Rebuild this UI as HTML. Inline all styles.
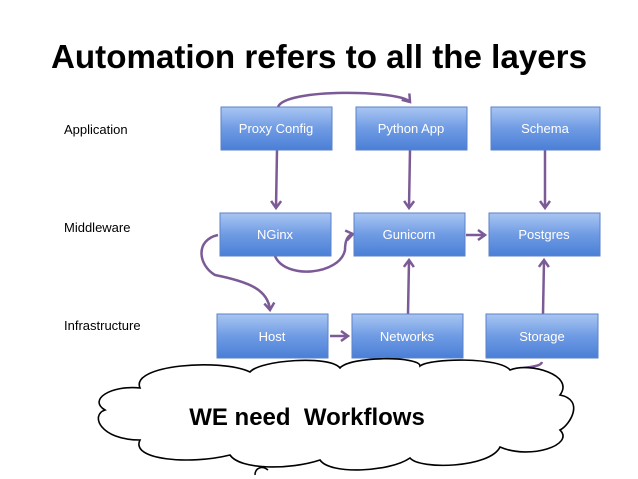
<!DOCTYPE html>
<html><head><style>
body{margin:0;background:#fff;}
svg{display:block;}
text{font-family:"Liberation Sans",sans-serif;}
</style></head><body>
<svg width="638" height="479" viewBox="0 0 638 479" xmlns="http://www.w3.org/2000/svg">
<defs>
<linearGradient id="g" x1="0" y1="0" x2="0" y2="1">
<stop offset="0" stop-color="#a9c6f2"/><stop offset="0.5" stop-color="#6f9be4"/><stop offset="1" stop-color="#4a7fd6"/>
</linearGradient>
<marker id="a" markerWidth="12" markerHeight="12" refX="8" refY="6" orient="auto" markerUnits="userSpaceOnUse">
<path d="M1,1 L8,6 L1,11" fill="none" stroke="#7b5a96" stroke-width="2.5"/>
</marker>
</defs>
<text x="319" y="68" text-anchor="middle" font-size="33" font-weight="bold" fill="#000" textLength="536" lengthAdjust="spacingAndGlyphs">Automation refers to all the layers</text>
<g font-size="13" fill="#000">
<text x="64" y="134">Application</text>
<text x="64" y="232">Middleware</text>
<text x="64" y="330">Infrastructure</text>
</g>
<g stroke="#7b5a96" stroke-width="2.5" fill="none" marker-end="url(#a)">
<path d="M278,107 C285,88 400,90 410,102"/>
<path d="M277,150 L276,208"/>
<path d="M410,150 L409,208"/>
<path d="M545,150 L545,208"/>
<path d="M466,235 L485,235"/>
<path d="M275,256 C285,280 340,275 345,250 C345,240 348,235 353,234"/>
<path d="M218,235 C195,240 198,265 215,275 C250,282 268,290 270,310"/>
<path d="M330,336 L348,336"/>
<path d="M408,314 L409,260"/>
<path d="M543,314 L544,260"/>
<path d="M505,372 C525,366 540,368 542,362" marker-end="none"/>
</g>
<g stroke="#5b82c8" stroke-width="1">
<rect x="221" y="107" width="111" height="43" fill="url(#g)"/>
<rect x="356" y="107" width="111" height="43" fill="url(#g)"/>
<rect x="491" y="107" width="109" height="43" fill="url(#g)"/>
<rect x="220" y="213" width="111" height="43" fill="url(#g)"/>
<rect x="354" y="213" width="111" height="43" fill="url(#g)"/>
<rect x="489" y="213" width="111" height="43" fill="url(#g)"/>
<rect x="217" y="314" width="111" height="44" fill="url(#g)"/>
<rect x="352" y="314" width="111" height="44" fill="url(#g)"/>
<rect x="486" y="314" width="112" height="44" fill="url(#g)"/>
</g>
<g font-size="13" fill="#fff" text-anchor="middle">
<text x="276" y="133">Proxy Config</text>
<text x="411" y="133">Python App</text>
<text x="545" y="133">Schema</text>
<text x="275" y="239">NGinx</text>
<text x="409" y="239">Gunicorn</text>
<text x="544" y="239">Postgres</text>
<text x="272" y="341">Host</text>
<text x="407" y="341">Networks</text>
<text x="542" y="341">Storage</text>
</g>
<path d="M140,388 C130,365 220,358 250,372 C260,360 330,355 340,368 C350,356 420,356 420,366 C430,358 500,357 510,370 C530,362 575,375 560,395 C585,400 570,425 560,430 C575,445 530,460 500,447 C490,468 420,470 410,458 C390,472 330,475 320,460 C290,470 240,470 230,455 C190,465 130,460 140,440 C100,440 90,415 105,410 C88,400 110,385 140,388 Z" fill="#fff" stroke="#000" stroke-width="1.6"/>
<path d="M255,475 C255,468 262,465 268,470" fill="none" stroke="#000" stroke-width="1.5"/>
<text x="307" y="425" text-anchor="middle" font-size="24" font-weight="bold" fill="#000">WE need&#160; Workflows</text>
</svg>
</body></html>
